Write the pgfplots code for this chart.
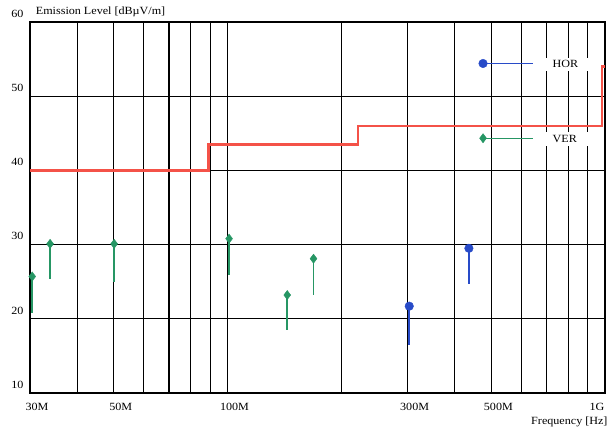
\documentclass[border=0pt]{standalone}
\usepackage{pgfplots}
\pgfplotsset{compat=1.18}
\usepackage{pgfplotstable}
\usepackage{fontspec}
\setmainfont{Liberation Serif}[FakeStretch=1.1]
\usetikzlibrary{calc}
\definecolor{limred}{RGB}{244,82,72}
\definecolor{vgreen}{RGB}{38,150,100}
\definecolor{hblue}{RGB}{40,75,200}

\pgfplotstableread{
f pk lo
30.4e6 25.7 20.8
33.9e6 30.1 25.3
50.1e6 30.1 25.0
101e6 30.8 25.9
144e6 23.2 18.5
169e6 28.1 23.2
}\ver
\pgfplotstableread{
f pk lo
303e6 21.7 16.5
436e6 29.5 24.7
}\hor

\begin{document}
\begin{tikzpicture}
\begin{axis}[
  name=ax, scale only axis, width=575pt, height=371pt,
  xmode=log, xmin=3e7, xmax=1e9, ymin=10, ymax=60,
  ytick={10,20,30,40,50,60},
  xtick={3e7,4e7,5e7,6e7,7e7,8e7,9e7,1e8,2e8,3e8,4e8,5e8,6e8,7e8,8e8,9e8},
  xticklabels={30M,,50M,,,,,100M,,300M,,500M,,,,},
  extra x ticks={1e9}, extra x tick labels={1G},
  extra x tick style={xticklabel style={xshift=-15pt}},
  major tick length=0pt, minor tick length=0pt,
  xmajorgrids, ymajorgrids, xminorgrids=false,
  major grid style={black, line width=1.1pt},
  axis line style={black, line width=1.6pt},
  tick label style={font=\fontsize{11}{13}\selectfont},
  /pgf/number format/assume math mode=true,
  yticklabel style={anchor=south east, xshift=-3pt, yshift=1pt},
  xticklabel style={anchor=north, xshift=7pt, yshift=-7pt},
  ylabel={Emission Level [dB\textmu V/m]},
  ylabel style={rotate=-90, at={(rel axis cs:0,1)}, anchor=south west, xshift=2pt, yshift=1pt, inner sep=3.7pt, font=\fontsize{11}{13}\selectfont},
  xlabel={Frequency [Hz]},
  xlabel style={at={(rel axis cs:1,0)}, anchor=north east, yshift=-20pt, xshift=6pt, font=\fontsize{11}{13}\selectfont},
  clip mode=individual,
  legend image code/.code={
    \draw[#1, line width=1.4pt] (0pt,0pt) -- (50pt,0pt);
    \draw[#1] plot coordinates {(0pt,0pt)};
  },
  legend style={draw=none, fill=none, at={(rel axis cs:0.78,0.91)}, anchor=north west,
    row sep=59pt, column sep=9pt, inner sep=0pt, font=\fontsize{11}{13}\selectfont},
  legend cell align=left,
]
\addplot[hblue, only marks, mark=*, mark size=4.3pt,
  error bars/y dir=minus, error bars/y explicit, error bars/error mark=none,
  error bars/error bar style={draw=hblue, line width=1.8pt, solid}]
  table[x=f, y=pk, y error expr=\thisrow{pk}-\thisrow{lo}] {\hor};
\addlegendentry{\colorbox{white}{\hspace{5pt}HOR\hspace{14pt}}}
\addplot[vgreen, only marks, mark=diamond*, mark size=4.6pt,
  error bars/y dir=minus, error bars/y explicit, error bars/error mark=none,
  error bars/error bar style={draw=vgreen, line width=1.8pt, solid}]
  table[x=f, y=pk, y error expr=\thisrow{pk}-\thisrow{lo}] {\ver};
\addlegendentry{\colorbox{white}{\hspace{5pt}VER\hspace{14pt}}}
\addplot[limred, line width=2.4pt, const plot, forget plot]
  coordinates {(3e7,40) (8.9e7,43.5) (2.22e8,46) (9.8e8,54) (1e9,54)};
\end{axis}
\pgfresetboundingbox
\path ($(ax.south west)+(-30pt,-39pt)$) rectangle ($(ax.north east)+(8pt,22pt)$);
\end{tikzpicture}
\end{document}
